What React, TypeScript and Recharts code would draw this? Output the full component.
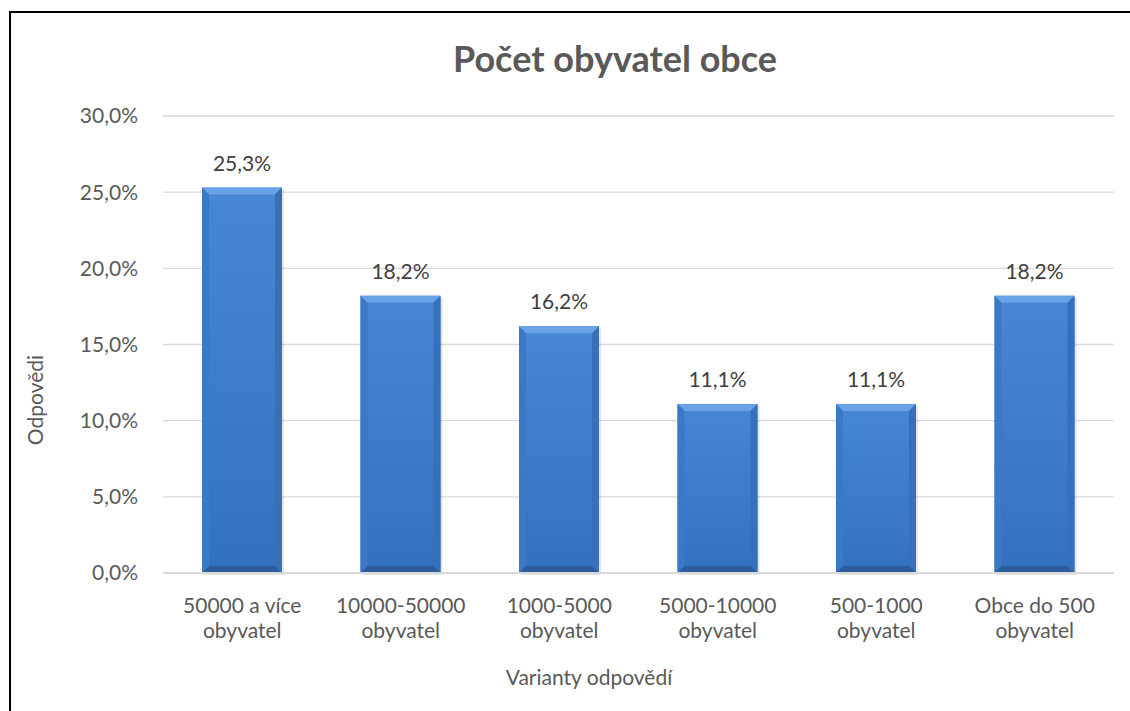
import { BarChart, Bar, XAxis, YAxis, CartesianGrid, LabelList } from "recharts";

const categories = [
  "50000 a více obyvatel",
  "10000-50000 obyvatel",
  "1000-5000 obyvatel",
  "5000-10000 obyvatel",
  "500-1000 obyvatel",
  "Obce do 500 obyvatel",
];
const shares = [25.3, 18.2, 16.2, 11.1, 11.1, 18.2];
const yTicks = [0, 5, 10, 15, 20, 25, 30];

const data = categories.map((name, i) => ({ name, value: shares[i] }));

const FONT = "Lato, 'Open Sans', sans-serif";
const pct1 = (v: number) => `${v.toFixed(1).replace(".", ",")}%`;

function BevelBar(props: any) {
  const { x, y, width, height } = props;
  if (!height || height <= 0) return null;
  const b = 7;
  return (
    <g>
      <rect x={x + 2} y={y + 2} width={width} height={height} fill="#000" opacity={0.1} />
      <rect x={x} y={y} width={width} height={height} fill="url(#barBody)" />
      {/* top bevel */}
      <polygon points={`${x},${y} ${x + width},${y} ${x + width - b},${y + b} ${x + b},${y + b}`} fill="#69a2e6" />
      {/* left bevel */}
      <polygon points={`${x},${y} ${x + b},${y + b} ${x + b},${y + height - b} ${x},${y + height}`} fill="#3b79c7" />
      {/* right bevel */}
      <polygon points={`${x + width},${y} ${x + width},${y + height} ${x + width - b},${y + height - b} ${x + width - b},${y + b}`} fill="#3670bb" />
      {/* bottom bevel */}
      <polygon points={`${x},${y + height} ${x + b},${y + height - b} ${x + width - b},${y + height - b} ${x + width},${y + height}`} fill="#2c5d9e" />
    </g>
  );
}

function CatTick(props: any) {
  const { x, y, payload } = props;
  const s: string = payload.value;
  const k = s.lastIndexOf(" ");
  const lines = [s.slice(0, k), s.slice(k + 1)];
  return (
    <text x={x} y={y} textAnchor="middle" fill="#595959" fontSize={21} fontFamily={FONT}>
      {lines.map((l, i) => (
        <tspan key={i} x={x} dy={i === 0 ? 32 : 25}>{l}</tspan>
      ))}
    </text>
  );
}

export default function App() {
  return (
    <div style={{ position: "absolute", left: 0, top: 0, width: 1130, height: 711, background: "#fff", overflow: "hidden" }}>
      <div style={{ position: "absolute", left: 9, top: 11, width: 1200, height: 2, background: "#000" }} />
      <div style={{ position: "absolute", left: 9, top: 11, width: 2, height: 800, background: "#000" }} />
      <div style={{ position: "absolute", left: 0, top: 0 }}>
        <BarChart width={1130} height={711} data={data} margin={{ top: 116, right: 16, bottom: 108, left: 70 }}>
          <defs>
            <linearGradient id="barBody" x1="0" y1="0" x2="0" y2="1">
              <stop offset="0%" stopColor="#4787d6" />
              <stop offset="100%" stopColor="#3470c0" />
            </linearGradient>
          </defs>
          <text x={615} y={72} textAnchor="middle" fill="#595959" fontSize={36} fontWeight={700} fontFamily={FONT}>
            Počet obyvatel obce
          </text>
          <text x={34} y={400} transform="rotate(-90 34 400)" textAnchor="middle" dominantBaseline="central" fill="#595959" fontSize={21} fontFamily={FONT}>
            Odpovědi
          </text>
          <text x={589} y={685} textAnchor="middle" fill="#595959" fontSize={21} fontFamily={FONT}>
            Varianty odpovědí
          </text>
          <CartesianGrid vertical={false} stroke="#d9d9d9" strokeWidth={1.3} />
          <YAxis
            domain={[0, 30]}
            ticks={yTicks}
            width={93}
            tickFormatter={pct1}
            axisLine={false}
            tickLine={false}
            tickSize={0}
            tickMargin={25}
            tick={{ fill: "#595959", fontSize: 21, fontFamily: FONT }}
          />
          <XAxis
            dataKey="name"
            interval={0}
            axisLine={{ stroke: "#d9d9d9", strokeWidth: 2 }}
            tickLine={false}
            tick={<CatTick />}
          />
          <Bar dataKey="value" barSize={80} shape={<BevelBar />} isAnimationActive={false}>
            <LabelList
              dataKey="value"
              position="top"
              offset={17}
              formatter={(v: any) => pct1(Number(v))}
              fill="#404040"
              fontSize={21}
              fontFamily={FONT}
            />
          </Bar>
        </BarChart>
      </div>
    </div>
  );
}
